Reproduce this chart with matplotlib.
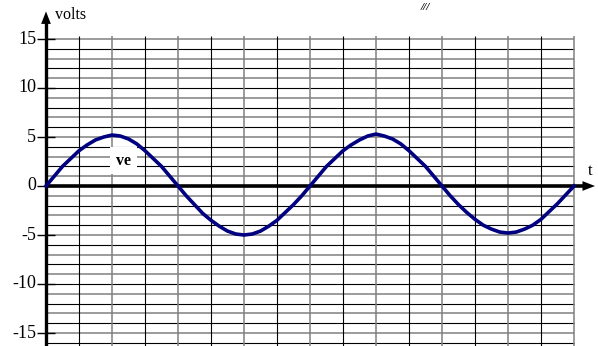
import numpy as np
import matplotlib
matplotlib.use("Agg")
import matplotlib.pyplot as plt

t = np.arange(0, 16.25, 0.25)
ve = [0, 1.0, 2.0, 2.8, 3.6, 4.2, 4.7, 5.0, 5.2, 5.1, 4.8, 4.3, 3.6, 2.8, 2.0, 1.0,
      0, -1.0, -1.9, -2.8, -3.5, -4.1, -4.6, -4.9, -5.0, -4.9, -4.6, -4.1, -3.5, -2.7, -1.9, -1.0,
      0, 1.0, 2.0, 2.8, 3.6, 4.2, 4.7, 5.1, 5.3, 5.1, 4.8, 4.3, 3.6, 2.8, 2.0, 1.0,
      0, -1.0, -1.9, -2.7, -3.4, -4.0, -4.4, -4.7, -4.8, -4.7, -4.4, -4.0, -3.4, -2.6, -1.8, -0.9, 0]
ytick_vals = [15, 10, 5, 0, -5, -10, -15]

W, H = 598, 346
x0, y0 = 46, 186          # pixel position of the origin
px_t, px_v = 33.0, 9.8    # pixels per grid step / per volt

fig = plt.figure(figsize=(W / 100, H / 100), dpi=100)
ax = fig.add_axes([0, 0, 1, 1])
ax.set_xlim(-x0 / px_t, (W - x0) / px_t)
ax.set_ylim((y0 - H) / px_v, y0 / px_v)
ax.axis("off")

# grid
ybot = (y0 - H) / px_v
for i, v in enumerate(range(-16, 16)):
    c = "#808080" if i % 2 else "black"
    ax.hlines(v, 0, 16, color=c, lw=1.1 if i % 2 else 0.8, zorder=1)
for i in range(1, 17):
    c = "#808080" if i % 2 == 0 else "black"
    ax.vlines(i, ybot, 15.3, color=c, lw=1.1 if i % 2 == 0 else 0.8, zorder=1)

# tick marks and labels
for v in ytick_vals:
    ax.hlines(v, -0.28, 0.28, color="black", lw=1.0, zorder=2)
    ax.text(-0.3, v, str(v), ha="right", va="center",
            fontsize=13, family="Liberation Serif", zorder=3)

# axes with arrows
ax.plot([0, 0], [ybot, 17.0], color="black", lw=2.4, zorder=4,
        solid_capstyle="butt")
ax.annotate("", xy=(0, 18.1), xytext=(0, 16.6),
            arrowprops=dict(arrowstyle="-|>,head_length=0.9,head_width=0.35",
                            color="black", lw=0), zorder=5)
ax.plot([0, 16.3], [0, 0], color="black", lw=2.6, zorder=4,
        solid_capstyle="butt")
ax.annotate("", xy=(16.72, 0), xytext=(16.2, 0),
            arrowprops=dict(arrowstyle="-|>,head_length=0.9,head_width=0.35",
                            color="black", lw=0), zorder=5)

ax.text(0.26, 17.4, "volts", ha="left", va="center", fontsize=11.5,
        family="Liberation Serif")
ax.text(16.48, 1.5, "t", ha="center", va="center", fontsize=12,
        family="Liberation Serif")
ax.text(2.35, 2.6, "ve", ha="center", va="center", fontsize=11.5,
        fontweight="bold", family="Liberation Serif", zorder=3,
        bbox=dict(facecolor="white", edgecolor="none", pad=4))
ax.text(11.5, 18.2, "///", ha="center", va="center", fontsize=8,
        style="italic", fontweight="bold", family="Liberation Serif")

ax.plot(t, ve, color="#000080", lw=2.6, zorder=6)

fig.savefig("out.png", dpi=100)
